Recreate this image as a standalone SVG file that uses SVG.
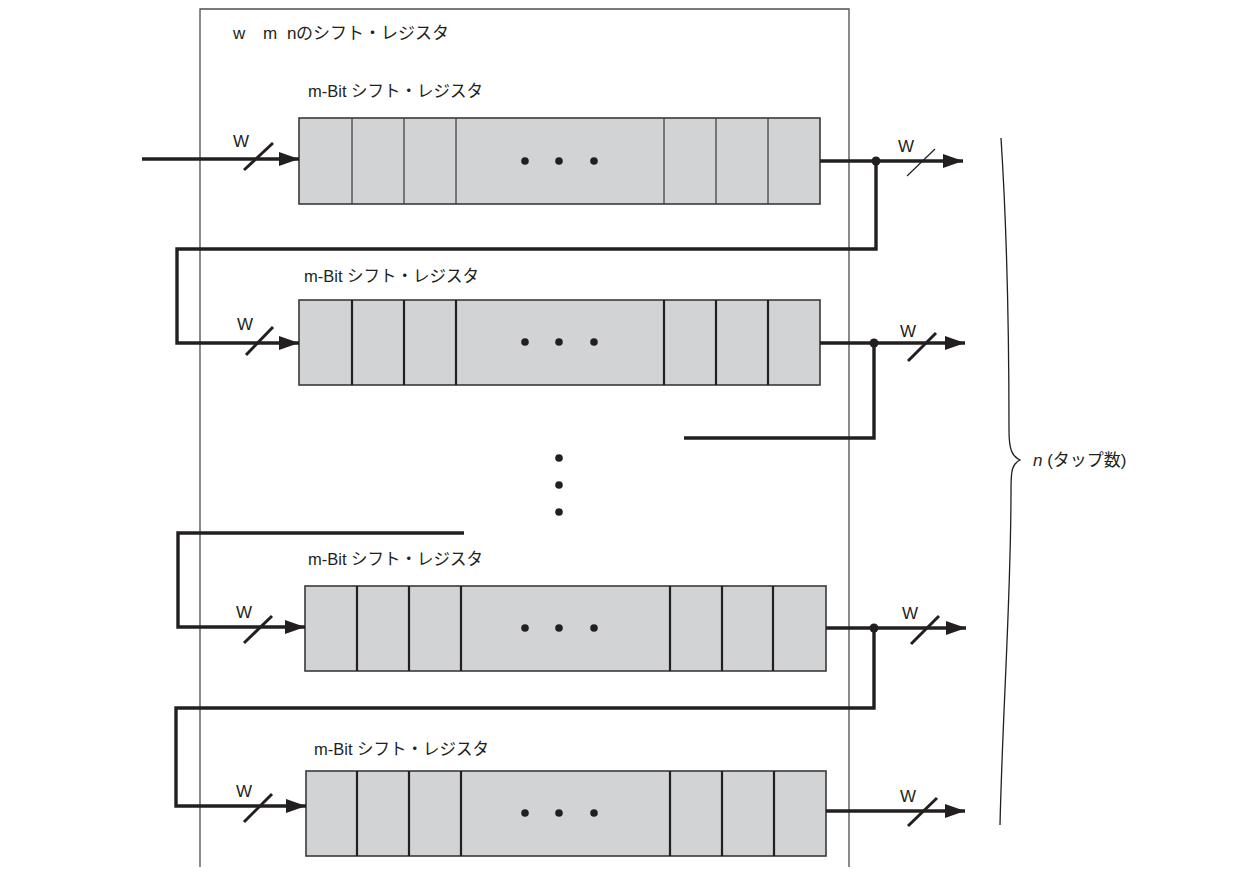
<svg xmlns="http://www.w3.org/2000/svg" width="1260" height="877" viewBox="0 0 1260 877">
<defs>
<marker id="arr" markerUnits="userSpaceOnUse" markerWidth="21" markerHeight="15" refX="20" refY="7" orient="auto">
<path d="M0,0 L20,7 L0,14 z" fill="#231f20"/>
</marker>
<style>
.t{font-family:"Liberation Sans","Noto Sans CJK JP",sans-serif;fill:#231f20}
.lbl{font-size:16.5px}
.w{font-size:17px}
.reg{fill:#d1d3d4;stroke:#3a3a3a;stroke-width:1.6}
.div1{stroke:#3a3a3a;stroke-width:1.2}
.div2{stroke:#231f20;stroke-width:2.2}
.wire{fill:none;stroke:#231f20;stroke-width:3.4}
.slash{stroke:#231f20;stroke-width:3}
.dot{fill:#231f20}
</style>
</defs>
<rect width="1260" height="877" fill="#fff"/>
<g id="frame">
<path d="M200,867 V9 H849 V867" fill="none" stroke="#4d4d4d" stroke-width="1.3"/>
<text class="t" font-size="17" y="39"><tspan x="233">w</tspan><tspan x="263">m</tspan><tspan x="287">n</tspan><tspan x="296">のシフト・レジスタ</tspan></text>
</g>
<g id="reg1">
<rect class="reg" x="299" y="118" width="521" height="86"/>
<path class="div1" d="M352,118V204M404,118V204M456,118V204M664,118V204M716,118V204M768,118V204"/>
<circle class="dot" cx="525" cy="161" r="3.8"/><circle class="dot" cx="559" cy="161" r="3.8"/><circle class="dot" cx="594" cy="161" r="3.8"/>
<text class="t lbl" x="308" y="97">m-Bit シフト・レジスタ</text>
</g>
<g id="reg2">
<rect class="reg" x="299" y="300" width="521" height="85"/>
<path class="div2" d="M352,300V385M404,300V385M456,300V385M664,300V385M716,300V385M768,300V385"/>
<circle class="dot" cx="525" cy="342" r="3.8"/><circle class="dot" cx="559" cy="342" r="3.8"/><circle class="dot" cx="594" cy="342" r="3.8"/>
<text class="t lbl" x="304" y="282">m-Bit シフト・レジスタ</text>
</g>
<g id="reg3">
<rect class="reg" x="305" y="586" width="521" height="85"/>
<path class="div2" d="M357,586V671M409,586V671M461,586V671M670,586V671M722,586V671M773,586V671"/>
<circle class="dot" cx="525" cy="628" r="3.8"/><circle class="dot" cx="559" cy="628" r="3.8"/><circle class="dot" cx="594" cy="628" r="3.8"/>
<text class="t lbl" x="308" y="565">m-Bit シフト・レジスタ</text>
</g>
<g id="reg4">
<rect class="reg" x="306" y="771" width="520" height="85"/>
<path class="div2" d="M357,771V856M409,771V856M461,771V856M670,771V856M722,771V856M774,771V856"/>
<circle class="dot" cx="525" cy="813" r="3.8"/><circle class="dot" cx="559" cy="813" r="3.8"/><circle class="dot" cx="594" cy="813" r="3.8"/>
<text class="t lbl" x="314" y="755">m-Bit シフト・レジスタ</text>
</g>
<g id="vdots">
<circle class="dot" cx="559" cy="458" r="3.8"/><circle class="dot" cx="559" cy="485" r="3.8"/><circle class="dot" cx="559" cy="512" r="3.8"/>
</g>
<g id="connectors">
<path class="wire" d="M142,159 H299" marker-end="url(#arr)"/>
<path class="wire" d="M820,161 H963" marker-end="url(#arr)"/>
<path class="wire" d="M876,161 V249 H177 V343 H299" marker-end="url(#arr)"/>
<path class="wire" d="M820,343 H965" marker-end="url(#arr)"/>
<path class="wire" d="M874,343 V438 H684"/>
<path class="wire" d="M464,533 H178 V627 H305" marker-end="url(#arr)"/>
<path class="wire" d="M826,628 H966" marker-end="url(#arr)"/>
<path class="wire" d="M874,628 V708 H176 V806 H306" marker-end="url(#arr)"/>
<path class="wire" d="M826,811 H965" marker-end="url(#arr)"/>
<circle class="dot" cx="876" cy="161" r="4.5"/>
<circle class="dot" cx="874" cy="343" r="4.5"/>
<circle class="dot" cx="874" cy="628" r="4.5"/>
<line class="slash" x1="244" y1="170" x2="273" y2="143"/>
<line class="slash" x1="246" y1="355" x2="273" y2="327"/>
<line class="slash" x1="244" y1="643" x2="272" y2="616"/>
<line class="slash" x1="244" y1="822" x2="272" y2="794"/>
<line x1="907" y1="176" x2="935" y2="149" stroke="#231f20" stroke-width="1.2"/>
<line class="slash" x1="908" y1="361" x2="936" y2="333"/>
<line class="slash" x1="911" y1="644" x2="939" y2="616"/>
<line class="slash" x1="908" y1="826" x2="937" y2="798"/>
<text class="t w" x="233" y="147">W</text>
<text class="t w" x="237" y="330">W</text>
<text class="t w" x="236" y="618">W</text>
<text class="t w" x="236" y="797">W</text>
<text class="t w" x="898" y="152">W</text>
<text class="t w" x="900" y="337">W</text>
<text class="t w" x="902" y="619">W</text>
<text class="t w" x="900" y="802">W</text>
</g>
<g id="brace">
<path d="M1001,138 C1005,200 1009,300 1009,430 C1009,450 1012,456 1020,460 C1012,464 1011,470 1011,490 C1011,600 1003,700 1000,825" fill="none" stroke="#231f20" stroke-width="1.3"/>
<text class="t" font-size="17" x="1033" y="466"><tspan font-style="italic">n</tspan> (タップ数)</text>
</g>
</svg>
